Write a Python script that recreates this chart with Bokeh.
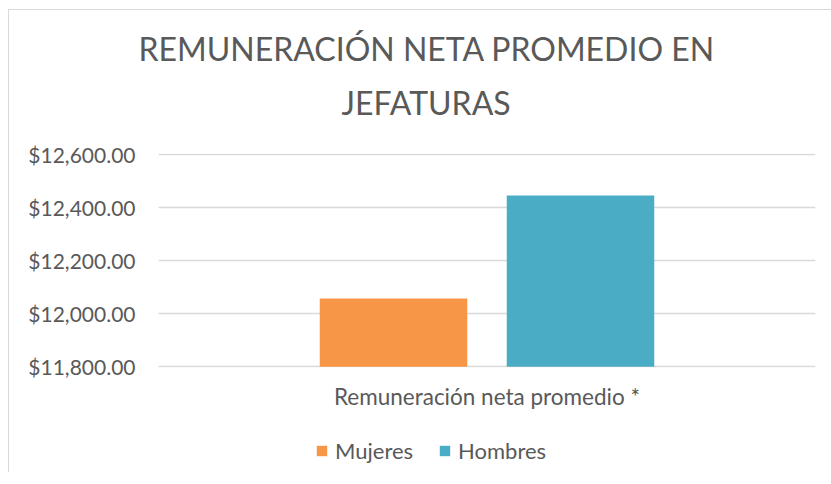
from bokeh.plotting import figure
from bokeh.layouts import column
from bokeh.models import (FactorRange, Range1d, FixedTicker, NumeralTickFormatter,
                          Legend, LegendItem, ColumnDataSource, Title)
from bokeh.transform import dodge
from bokeh.embed import file_html
from bokeh.resources import INLINE

# data
category = ["Remuneración neta promedio *"]
series = ["Mujeres", "Hombres"]
mujeres = [12057]
hombres = [12445]
y_ticks = [11800, 12000, 12200, 12400, 12600]
colors = ["#F79646", "#4BACC6"]
title_lines = ["REMUNERACIÓN NETA PROMEDIO EN", "JEFATURAS"]

FONT = "Lato"
TXT = "#595959"

src = ColumnDataSource(dict(cat=category, Mujeres=mujeres, Hombres=hombres))

p = figure(width=831, height=430, output_backend="svg", toolbar_location=None,
           title=None,
           x_range=FactorRange(factors=category),
           y_range=Range1d(y_ticks[0] - 3, y_ticks[-1] + 3),
           min_border_left=158, min_border_right=16, min_border_top=153,
           min_border_bottom=63)
p.border_fill_alpha = 0
p.background_fill_color = "white"

w = 0.2245
r1 = p.vbar(x=dodge("cat", -0.1423, range=p.x_range), top="Mujeres", bottom=y_ticks[0],
            width=w, source=src, color=colors[0], line_color=None)
r2 = p.vbar(x=dodge("cat", 0.1423, range=p.x_range), top="Hombres", bottom=y_ticks[0],
            width=w, source=src, color=colors[1], line_color=None)

t2 = Title(text=title_lines[1], align="left", offset=183, standoff=63,
           text_font=FONT, text_font_style="normal", text_font_size="32px", text_color=TXT)
t1 = Title(text=title_lines[0], align="left", offset=-20, standoff=-37,
           text_font=FONT, text_font_style="normal", text_font_size="32px", text_color=TXT)
p.add_layout(t2, "above")
p.add_layout(t1, "above")

p.outline_line_color = None
p.xgrid.grid_line_color = None
p.ygrid.grid_line_color = "#d9d9d9"
p.ygrid.grid_line_width = 1.3

p.yaxis.ticker = FixedTicker(ticks=y_ticks)
p.yaxis.formatter = NumeralTickFormatter(format="$0,0.00")
p.yaxis.axis_line_color = None
p.yaxis.major_tick_line_color = None
p.yaxis.minor_tick_line_color = None
p.yaxis.major_tick_out = 0
p.yaxis.major_tick_in = 0
p.yaxis.minor_tick_out = 0
p.yaxis.major_label_standoff = 23
p.yaxis.major_label_text_font = FONT
p.yaxis.major_label_text_font_size = "21px"
p.yaxis.major_label_text_color = TXT

p.xaxis.axis_line_color = None
p.xaxis.major_tick_line_color = None
p.xaxis.minor_tick_line_color = None
p.xaxis.major_tick_out = 0
p.xaxis.major_tick_in = 0
p.xaxis.major_label_standoff = 15
p.xaxis.major_label_text_font = FONT
p.xaxis.major_label_text_font_size = "22.5px"
p.xaxis.major_label_text_color = TXT

# legend strip below the chart
lg = figure(width=831, height=42, output_backend="svg", toolbar_location=None,
            title=None, x_range=Range1d(0, 1), y_range=Range1d(0, 1),
            min_border=0, x_axis_type=None, y_axis_type=None)
lg.outline_line_color = None
lg.border_fill_alpha = 0
lg.background_fill_alpha = 0
lg.grid.visible = False
# off-screen swatch sources (only used to draw the legend keys)
key_src = ColumnDataSource(dict(x=[-5], top=[0]))
l1 = lg.vbar(x="x", top="top", width=0.1, source=key_src, color=colors[0], line_color=None)
l2 = lg.vbar(x="x", top="top", width=0.1, source=key_src, color=colors[1], line_color=None)
legend = Legend(items=[LegendItem(label=series[0], renderers=[l1]),
                       LegendItem(label=series[1], renderers=[l2])],
                orientation="horizontal", location=(157, 8))
legend.label_text_font = FONT
legend.label_text_font_size = "22px"
legend.label_text_color = TXT
legend.glyph_width = 13
legend.glyph_height = 13
legend.label_standoff = 7
legend.spacing = 25
legend.border_line_color = None
legend.background_fill_alpha = 0
legend.margin = 0
legend.padding = 0
lg.add_layout(legend)

frame_css = {
    "background-color": "white",
    "background-image": "linear-gradient(#d9d9d9, #d9d9d9), linear-gradient(#d9d9d9, #d9d9d9)",
    "background-size": "1px 100%, 100% 1px",
    "background-position": "8px 9px, 8px 9px",
    "background-repeat": "no-repeat",
}
layout = column(p, lg, spacing=0, styles=frame_css)
open("out.html", "w").write(file_html(layout, INLINE))
